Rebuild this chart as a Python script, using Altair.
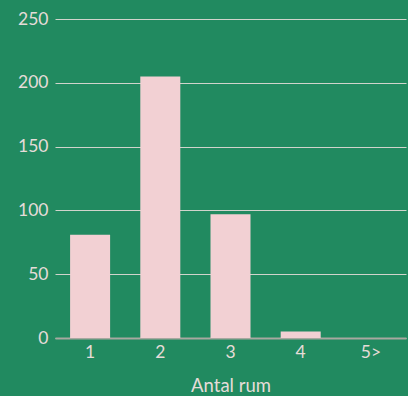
import altair as alt
import pandas as pd

rooms = ["1", "2", "3", "4", "5>"]
counts = [81, 205, 97, 5, 0]

df = pd.DataFrame({"rum": rooms, "antal": counts})

chart = alt.Chart(df).mark_bar(color="#f2d0d3").encode(
    x=alt.X("rum:N", sort=rooms, title="Antal rum",
            scale=alt.Scale(paddingInner=0.43, paddingOuter=0.215),
            axis=alt.Axis(labelAngle=0, labelFontSize=17.5, labelColor="#e6dcd8",
                          titleFontSize=18.5, titleColor="#e6dcd8", titleFontWeight="normal",
                          labelPadding=5, titlePadding=16, ticks=False,
                          domainColor="#a8a8a0", domainWidth=2, grid=False)),
    y=alt.Y("antal:Q", title=None,
            scale=alt.Scale(domain=[0, 250]),
            axis=alt.Axis(values=[0, 50, 100, 150, 200, 250], labelFontSize=17.5,
                          labelColor="#e6dcd8", labelPadding=7, ticks=False, domain=False,
                          gridColor="#d0d4cc", gridWidth=1, gridOpacity=1)),
).properties(
    width=351, height=319,
    autosize=alt.AutoSizeParams(type="none"),
    padding={"left": 55, "top": 19, "right": 2, "bottom": 58},
    background="#218a60",
).configure(font="Lato").configure_view(strokeWidth=0)

chart.save("out.html", embed_options={"renderer": "svg", "actions": False})
